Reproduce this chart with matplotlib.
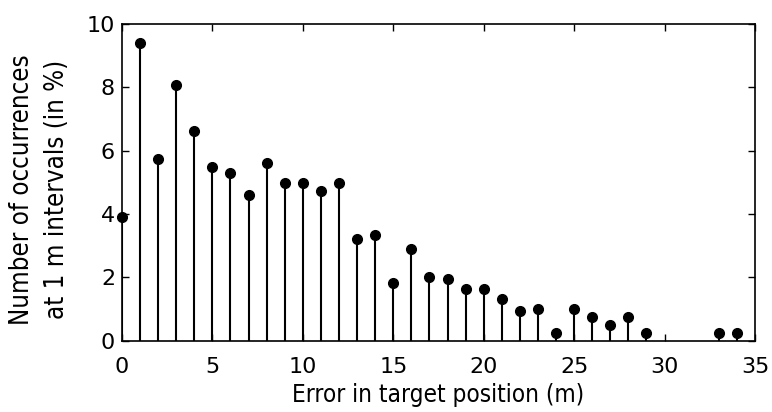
import matplotlib
matplotlib.use("Agg")
import matplotlib.pyplot as plt
from matplotlib import font_manager

x_vals = [0, 1, 2, 3, 4, 5, 6, 7, 8, 9, 10, 11, 12, 13, 14, 15, 16, 17, 18, 19,
          20, 21, 22, 23, 24, 25, 26, 27, 28, 29, 33, 34]
occurrences = [3.9, 9.41, 5.74, 8.08, 6.62, 5.49, 5.29, 4.59, 5.6, 4.98, 4.98, 4.72,
               4.98, 3.2, 3.33, 1.82, 2.88, 2.01, 1.95, 1.62, 1.62, 1.32, 0.94, 0.99,
               0.23, 0.99, 0.75, 0.49, 0.76, 0.23, 0.23, 0.23]
x_ticks = [0, 5, 10, 15, 20, 25, 30, 35]
y_ticks = [0, 2, 4, 6, 8, 10]

has_condensed = any(f.name == 'DejaVu Sans' and 'condensed' in str(f.stretch).lower()
                    for f in font_manager.fontManager.ttflist)
if has_condensed:
    lab_kw = dict(family='DejaVu Sans', fontstretch='condensed')
    xl_size, yl_size, yl_ls = 17.5, 18.5, 1.47
else:
    lab_kw = dict(family='DejaVu Sans')
    xl_size, yl_size, yl_ls = 16, 17, 1.6

fig = plt.figure(figsize=(7.72, 4.12), dpi=100)
ax = fig.add_axes([0.158, 0.173, 0.82, 0.769])

markerline, stemlines, baseline = ax.stem(x_vals, occurrences, linefmt='k-', markerfmt='ko', basefmt=' ')
markerline.set_markersize(7)
markerline.set_clip_on(False)
stemlines.set_linewidth(1.5)

ax.set_xlim(0, 35)
ax.set_ylim(0, 10)
ax.set_xticks(x_ticks)
ax.set_yticks(y_ticks)
ax.tick_params(direction='in', top=True, right=True, length=5, width=1, labelsize=16)
ax.tick_params(axis='x', pad=12)
ax.tick_params(axis='y', pad=5)
for s in ax.spines.values():
    s.set_linewidth(1.2)
ax.set_xlabel("Error in target position (m)", fontsize=xl_size, labelpad=4, **lab_kw)
ax.set_ylabel("Number of occurrences\nat 1 m intervals (in %)", fontsize=yl_size, labelpad=12,
              linespacing=yl_ls, **lab_kw)
ax.yaxis.label.set_y(0.478)

fig.savefig("out.png", dpi=100)
